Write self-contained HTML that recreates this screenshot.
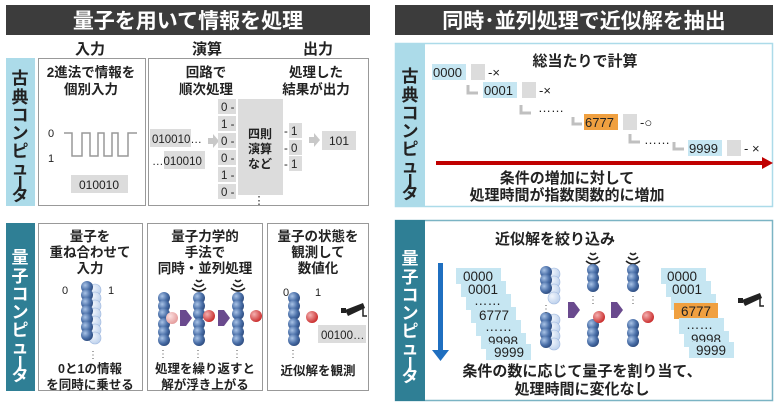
<!DOCTYPE html>
<html><head><meta charset="utf-8"><style>
html,body{margin:0;padding:0;background:#fff;}
svg{display:block;font-family:"Liberation Sans","Noto Sans CJK JP",sans-serif;}
.b{font-weight:bold;fill:#222;}
</style></head><body>
<svg width="775" height="409" viewBox="0 0 775 409" xmlns="http://www.w3.org/2000/svg">
<defs>
<radialGradient id="bl" cx="0.35" cy="0.35" r="0.7"><stop offset="0" stop-color="#a9c3e6"/><stop offset="0.6" stop-color="#4a6fa8"/><stop offset="1" stop-color="#2c4a7d"/></radialGradient>
<radialGradient id="lb" cx="0.35" cy="0.35" r="0.7"><stop offset="0" stop-color="#f0f5fc"/><stop offset="1" stop-color="#bcd0ec"/></radialGradient>
<radialGradient id="rd" cx="0.35" cy="0.35" r="0.7"><stop offset="0" stop-color="#f4b0b0"/><stop offset="1" stop-color="#c82828"/></radialGradient>
<radialGradient id="pk" cx="0.35" cy="0.35" r="0.7"><stop offset="0" stop-color="#fbe0e0"/><stop offset="1" stop-color="#e49a9a"/></radialGradient>
<circle id="s" r="6" fill="url(#bl)"/>
<circle id="l" r="6" fill="url(#lb)" stroke="#9fb8de" stroke-width="0.6"/>
<g id="stk3"><use href="#s" y="0"/><use href="#s" y="8"/><use href="#s" y="16"/></g>
<g id="wave" fill="none" stroke="#222" stroke-width="1.6"><path d="M-7,-4 Q0,2 7,-4"/><path d="M-5,-8 Q0,-3 5,-8"/><path d="M-3,-12 Q0,-9 3,-12"/></g>
<path id="parr" d="M0,-8 L6,-8 L12,0 L6,8 L0,8 Z" fill="#6a4a8e"/>
<path id="garr" d="M0,-3 L5,-3 L5,-7 L11,0 L5,7 L5,3 L0,3 Z" fill="#c8c8c8"/>
<g id="cam"><path d="M0,0 L18,-7 L20,-2 L3,6 Z" fill="#222"/><rect x="-4" y="-2" width="5" height="5" fill="#222"/><path d="M18,-2 L18,6 L22,6" stroke="#222" stroke-width="1.5" fill="none"/></g>
</defs>

<rect x="6" y="5" width="364" height="30" fill="#3c3c3c"/>
<text x="188" y="28" font-size="21" font-weight="bold" fill="#fff" text-anchor="middle">量子を用いて情報を処理</text>
<rect x="395" y="5" width="378" height="30" fill="#3c3c3c"/>
<text x="584" y="28" font-size="21" font-weight="bold" fill="#fff" text-anchor="middle">同時･並列処理で近似解を抽出</text>

<g class="b" font-size="15" text-anchor="middle">
<text x="90" y="54">入力</text><text x="207" y="54">演算</text><text x="318" y="54">出力</text>
</g>

<rect x="6" y="58" width="29" height="148" fill="#acdbe9"/>
<g class="b" font-size="17" text-anchor="middle">
<text x="20" y="84">古</text><text x="20" y="103">典</text><text x="20" y="121">コ</text><text x="20" y="139">ン</text><text x="20" y="157">ピ</text><text x="20" y="174">ュ</text><text x="20" y="201">タ</text>
</g>
<rect x="19" y="176" width="2.4" height="13" fill="#222"/>
<rect x="38.5" y="58.5" width="107" height="147" fill="#fff" stroke="#999"/>
<rect x="148.5" y="58.5" width="220" height="147" fill="#fff" stroke="#999"/>
<g class="b" font-size="13.5" text-anchor="middle">
<text x="91" y="77">2進法で情報を</text><text x="91" y="94">個別入力</text>
<text x="206" y="77">回路で</text><text x="206" y="94">順次処理</text>
<text x="316" y="77">処理した</text><text x="316" y="94">結果が出力</text>
</g>
<g font-size="11" fill="#222">
<text x="48" y="137">0</text><text x="48" y="162">1</text>
</g>
<path d="M64,133 H72 V156 H82 V133 H90 V156 H98 V133 H104 V156 H112 V133 H118 V156 H128 V133 H137" fill="none" stroke="#999" stroke-width="1.5"/>
<rect x="71" y="175" width="57" height="18" fill="#dcdcdc"/>
<text x="99" y="189" font-size="12" text-anchor="middle" fill="#222">010010</text>

<rect x="150" y="129" width="41" height="18" fill="#dcdcdc"/>
<text x="152" y="143" font-size="11.5" fill="#222">010010…</text>
<rect x="164" y="151" width="41" height="18" fill="#dcdcdc"/>
<text x="152" y="165" font-size="11.5" fill="#222">…010010</text>
<use href="#garr" x="208" y="141"/>
<g font-size="11.5" fill="#222">
<rect x="218" y="99" width="18" height="15" fill="#dcdcdc"/><text x="221" y="111">0 -</text>
<rect x="218" y="116" width="18" height="15" fill="#dcdcdc"/><text x="221" y="128">1 -</text>
<rect x="218" y="133" width="18" height="15" fill="#dcdcdc"/><text x="221" y="145">0 -</text>
<rect x="218" y="150" width="18" height="15" fill="#dcdcdc"/><text x="221" y="162">0 -</text>
<rect x="218" y="167" width="18" height="15" fill="#dcdcdc"/><text x="221" y="179">1 -</text>
<rect x="218" y="184" width="18" height="15" fill="#dcdcdc"/><text x="221" y="196">0 -</text>
</g>
<rect x="238" y="99" width="45" height="96" fill="#dcdcdc"/>
<g class="b" font-size="12" text-anchor="middle"><text x="260" y="138">四則</text><text x="260" y="153">演算</text><text x="260" y="168">など</text></g>
<text x="259" y="204" font-size="11" fill="#222" text-anchor="middle">⋮</text>
<g font-size="11.5" fill="#222">
<rect x="289" y="123" width="13" height="15" fill="#dcdcdc"/><text x="284" y="135">- 1</text>
<rect x="289" y="140" width="13" height="15" fill="#dcdcdc"/><text x="284" y="152">- 0</text>
<rect x="289" y="156" width="13" height="15" fill="#dcdcdc"/><text x="284" y="168">- 1</text>
</g>
<use href="#garr" x="309" y="140"/>
<rect x="322" y="131" width="34" height="19" fill="#dcdcdc"/>
<text x="339" y="145" font-size="12" text-anchor="middle" fill="#222">101</text>

<rect x="6" y="223" width="29" height="168" fill="#2f7f95"/>
<g font-size="17" font-weight="bold" fill="#fff" text-anchor="middle">
<text x="20" y="263">量</text><text x="20" y="282">子</text><text x="20" y="300">コ</text><text x="20" y="318">ン</text><text x="20" y="336">ピ</text><text x="20" y="353">ュ</text><text x="20" y="381">タ</text>
</g>
<rect x="19" y="356" width="2.4" height="13" fill="#fff"/>
<rect x="38.5" y="223.5" width="104" height="167" fill="#fff" stroke="#999"/>
<rect x="147.5" y="223.5" width="115" height="167" fill="#fff" stroke="#999"/>
<rect x="267.5" y="223.5" width="101" height="167" fill="#fff" stroke="#999"/>
<g class="b" font-size="13.5" text-anchor="middle">
<text x="90" y="241">量子を</text><text x="90" y="257">重ね合わせて</text><text x="90" y="273">入力</text>
<text x="205" y="241">量子力学的</text><text x="205" y="257">手法で</text><text x="205" y="273">同時・並列処理</text>
<text x="318" y="241">量子の状態を</text><text x="318" y="257">観測して</text><text x="318" y="273">数値化</text>
</g>
<g font-size="11" fill="#222"><text x="62" y="294">0</text><text x="108" y="294">1</text></g>
<g>
<use href="#l" x="95" y="290"/><use href="#l" x="95" y="298"/><use href="#l" x="95" y="306"/><use href="#l" x="95" y="314"/><use href="#l" x="95" y="322"/><use href="#l" x="95" y="330"/><use href="#l" x="95" y="338"/>
<use href="#s" x="87" y="287"/><use href="#s" x="87" y="295"/><use href="#s" x="87" y="303"/><use href="#s" x="87" y="311"/><use href="#s" x="87" y="319"/><use href="#s" x="87" y="327"/><use href="#s" x="87" y="335"/>
</g>
<text x="93" y="358" font-size="10" text-anchor="middle" fill="#555">⋮</text>
<g class="b" font-size="12.5" text-anchor="middle"><text x="90" y="373">0と1の情報</text><text x="90" y="389">を同時に乗せる</text></g>

<use href="#stk3" x="164" y="298"/><use href="#stk3" x="164" y="324"/>
<circle cx="172" cy="318" r="6" fill="url(#pk)"/>
<use href="#parr" x="180" y="318"/>
<use href="#wave" x="199" y="292"/>
<use href="#stk3" x="199" y="298"/><use href="#stk3" x="199" y="324"/>
<circle cx="209" cy="316" r="6" fill="url(#rd)"/>
<use href="#parr" x="218" y="318"/>
<use href="#wave" x="238" y="292"/>
<use href="#stk3" x="238" y="298"/><use href="#stk3" x="238" y="324"/>
<circle cx="256" cy="316" r="6" fill="url(#rd)"/>
<g font-size="10" fill="#555" text-anchor="middle"><text x="163" y="357">⋮</text><text x="198" y="357">⋮</text><text x="237" y="357">⋮</text></g>
<g class="b" font-size="12.5" text-anchor="middle"><text x="205" y="373">処理を繰り返すと</text><text x="205" y="389">解が浮き上がる</text></g>

<g font-size="11" fill="#222"><text x="283" y="296">0</text><text x="315" y="296">1</text></g>
<use href="#stk3" x="294" y="298"/><use href="#stk3" x="294" y="324"/>
<circle cx="312" cy="317" r="6" fill="url(#rd)"/>
<use href="#cam" x="345" y="310"/>
<rect x="318" y="325" width="48" height="18" fill="#dcdcdc"/>
<text x="321" y="339" font-size="11.5" fill="#222">00100…</text>
<text x="293" y="357" font-size="10" fill="#555" text-anchor="middle">⋮</text>
<text x="318" y="375" class="b" font-size="12.5" text-anchor="middle">近似解を観測</text>

<rect x="395.5" y="43.5" width="377" height="163" fill="#fff" stroke="#acdbe9" stroke-width="1.5"/>
<rect x="395" y="43" width="30" height="164" fill="#acdbe9"/>
<g class="b" font-size="17" text-anchor="middle">
<text x="410" y="82">古</text><text x="410" y="101">典</text><text x="410" y="119">コ</text><text x="410" y="137">ン</text><text x="410" y="155">ピ</text><text x="410" y="172">ュ</text><text x="410" y="199">タ</text>
</g>
<rect x="409" y="174" width="2.4" height="13" fill="#222"/>
<text x="585" y="66" class="b" font-size="15" text-anchor="middle">総当たりで計算</text>
<g font-size="13" fill="#222">
<rect x="432" y="64" width="34" height="16" fill="#c6e6f2"/><text x="433" y="77">0000</text>
<text x="467" y="77" font-size="9">⋮</text><rect x="471" y="64" width="14" height="16" fill="#dcdcdc"/><text x="488" y="77">-×</text>
<rect x="483" y="82" width="34" height="16" fill="#c6e6f2"/><text x="484" y="95">0001</text>
<text x="518" y="95" font-size="9">⋮</text><rect x="522" y="82" width="14" height="16" fill="#dcdcdc"/><text x="539" y="95">-×</text>
<text x="538" y="112">……</text>
<rect x="584" y="114" width="34" height="16" fill="#f0a040"/><text x="585" y="127">6777</text>
<text x="619" y="127" font-size="9">⋮</text><rect x="623" y="114" width="14" height="16" fill="#dcdcdc"/><text x="640" y="127">-○</text>
<text x="644" y="144">……</text>
<rect x="688" y="140" width="34" height="16" fill="#c6e6f2"/><text x="689" y="153">9999</text>
<text x="723" y="153" font-size="9">⋮</text><rect x="727" y="140" width="14" height="16" fill="#dcdcdc"/><text x="744" y="153">- ×</text>
</g>
<g fill="none" stroke="#c0c0c0" stroke-width="3"><path d="M468,85 V93 H478"/><path d="M521,105 V113 H531"/><path d="M573,117 V124 H582"/><path d="M630,134 V142 H640"/><path d="M674,142 V149 H684"/></g>
<line x1="436" y1="163" x2="765" y2="163" stroke="#c00000" stroke-width="4"/>
<path d="M762,157 L773,163 L762,169 Z" fill="#c00000"/>
<g class="b" font-size="15" text-anchor="middle"><text x="567" y="183">条件の増加に対して</text><text x="567" y="200">処理時間が指数関数的に増加</text></g>

<rect x="395.5" y="220.5" width="377" height="180" fill="#fff" stroke="#7bb4c4" stroke-width="1.5"/>
<rect x="395" y="220" width="30" height="181" fill="#2f7f95"/>
<g font-size="17" font-weight="bold" fill="#fff" text-anchor="middle">
<text x="410" y="264">量</text><text x="410" y="283">子</text><text x="410" y="301">コ</text><text x="410" y="319">ン</text><text x="410" y="337">ピ</text><text x="410" y="354">ュ</text><text x="410" y="382">タ</text>
</g>
<rect x="409" y="357" width="2.4" height="13" fill="#fff"/>
<text x="555" y="244" class="b" font-size="15" text-anchor="middle">近似解を絞り込み</text>
<rect x="438" y="263" width="5" height="88" fill="#1f6fc0"/>
<path d="M432,350 L449,350 L440.5,361 Z" fill="#1f6fc0"/>
<g font-size="13.5" fill="#222">
<rect x="456" y="268" width="45" height="16" fill="#c6e6f2"/><text x="463" y="281">0000</text>
<rect x="461" y="281" width="45" height="16" fill="#c6e6f2"/><text x="468" y="294">0001</text>
<rect x="466" y="294" width="45" height="16" fill="#c6e6f2"/><text x="474" y="305">……</text>
<rect x="471" y="307" width="45" height="16" fill="#c6e6f2"/><text x="479" y="320">6777</text>
<rect x="476" y="320" width="45" height="16" fill="#c6e6f2"/><text x="485" y="331">……</text>
<rect x="481" y="333" width="45" height="16" fill="#c6e6f2"/><text x="488" y="346">9998</text>
<rect x="486" y="344" width="45" height="16" fill="#c6e6f2"/><text x="494" y="357">9999</text>
</g>
<g>
<use href="#l" x="554" y="274"/><use href="#l" x="554" y="282"/><use href="#l" x="554" y="290"/><use href="#l" x="554" y="298"/>
<use href="#s" x="546" y="272"/><use href="#s" x="546" y="280"/><use href="#s" x="546" y="288"/>
<use href="#l" x="554" y="320"/><use href="#l" x="554" y="328"/><use href="#l" x="554" y="336"/><use href="#l" x="554" y="344"/>
<use href="#s" x="546" y="318"/><use href="#s" x="546" y="326"/><use href="#s" x="546" y="334"/><use href="#s" x="546" y="342"/>
</g>
<text x="546" y="312" font-size="10" fill="#555" text-anchor="middle">⋮</text>
<use href="#parr" x="568" y="310"/>
<use href="#wave" x="593" y="265"/>
<use href="#stk3" x="593" y="270"/><text x="593" y="303" font-size="10" fill="#555" text-anchor="middle">⋮</text>
<use href="#stk3" x="593" y="325"/>
<circle cx="599" cy="317" r="6" fill="url(#rd)"/>
<use href="#parr" x="611" y="310"/>
<use href="#wave" x="633" y="265"/>
<use href="#stk3" x="633" y="270"/><text x="633" y="303" font-size="10" fill="#555" text-anchor="middle">⋮</text>
<use href="#stk3" x="633" y="325"/>
<circle cx="648" cy="317" r="6" fill="url(#rd)"/>
<g font-size="13.5" fill="#222">
<rect x="661" y="268" width="45" height="16" fill="#c6e6f2"/><text x="667" y="281">0000</text>
<rect x="666" y="281" width="45" height="16" fill="#c6e6f2"/><text x="672" y="294">0001</text>
<rect x="671" y="294" width="45" height="16" fill="#c6e6f2"/><text x="679" y="305">……</text>
<rect x="674" y="303" width="44" height="16" fill="#f0a040"/><text x="681" y="316">6777</text>
<rect x="679" y="318" width="45" height="16" fill="#c6e6f2"/><text x="686" y="329">……</text>
<rect x="684" y="331" width="45" height="16" fill="#c6e6f2"/><text x="691" y="344">9998</text>
<rect x="689" y="342" width="45" height="16" fill="#c6e6f2"/><text x="696" y="355">9999</text>
</g>
<use href="#cam" x="742" y="300"/>
<g class="b" font-size="15" text-anchor="middle"><text x="582" y="376">条件の数に応じて量子を割り当て、</text><text x="582" y="394">処理時間に変化なし</text></g>
</svg>
</body></html>
